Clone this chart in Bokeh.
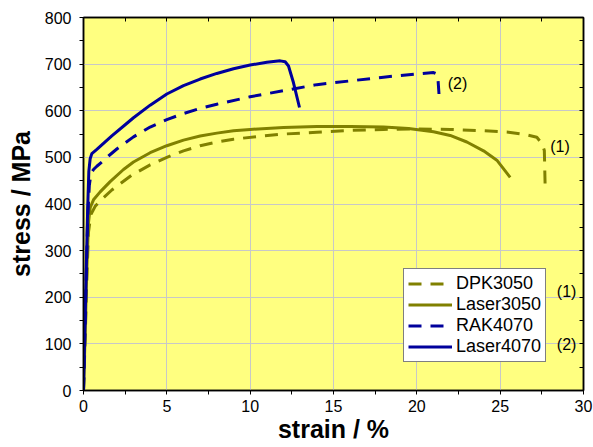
from bokeh.plotting import figure
from bokeh.models import (ColumnDataSource, Legend, LegendItem, LinearAxis, Range1d,
                          SingleIntervalTicker, CustomJSTickFormatter)
from bokeh.core.properties import value
from bokeh.embed import file_html
from bokeh.resources import INLINE

# Tensile test curves: engineering strain (%) vs stress (MPa)
dpk3050_strain = [0, 0.1, 0.2, 0.3, 0.45, 0.7, 1.0, 1.7, 2.9, 4.0, 5.0, 6.0, 7.0, 8.0, 9.0,
                  10.5, 12.0, 14.0, 16.0, 18.0, 20.0, 22.0, 24.0, 25.5, 26.5, 27.2, 27.5,
                  27.65, 27.7]
dpk3050_stress = [0, 110, 240, 340, 378, 395, 407, 430, 462, 484, 500, 514, 525, 533, 539,
                  545, 550, 554, 558, 560, 561, 560, 557, 554, 549, 543, 530, 515, 436]

laser3050_strain = [0, 0.1, 0.2, 0.3, 0.4, 0.6, 1.0, 1.6, 2.4, 3.0, 4.0, 5.0, 6.0, 7.0, 8.0,
                    9.0, 10.0, 12.0, 14.0, 16.0, 18.0, 19.5, 21.0, 22.0, 23.0, 24.0, 24.8,
                    25.6]
laser3050_stress = [0, 120, 260, 360, 392, 409, 426, 448, 474, 490, 510, 525, 537, 546, 552,
                    557, 560, 564, 566, 566, 565, 562, 555, 547, 533, 514, 494, 457]

rak4070_strain = [0, 0.12, 0.25, 0.35, 0.45, 0.6, 0.8, 1.1, 1.5, 2.0, 2.5, 3.0, 4.0, 5.0,
                  6.0, 7.0, 8.0, 10.0, 12.0, 14.0, 16.0, 18.0, 20.0, 21.0, 21.25, 21.35]
rak4070_stress = [0, 180, 370, 440, 465, 474, 481, 490, 503, 518, 531, 544, 565, 581, 594,
                  605, 614, 630, 643, 656, 664, 672, 679, 682, 678, 625]

laser4070_strain = [0, 0.12, 0.25, 0.32, 0.4, 0.5, 0.8, 1.2, 1.7, 2.5, 3.0, 4.0, 5.0, 6.0,
                    7.0, 8.0, 9.0, 10.0, 11.0, 11.8, 12.1, 12.3, 12.6, 12.96]
laser4070_stress = [0, 190, 390, 470, 497, 508, 517, 530, 546, 570, 585, 612, 636, 654, 668,
                    680, 690, 698, 704, 707, 705, 696, 660, 607]

series_names = ["DPK3050", "Laser3050", "RAK4070", "Laser4070"]

# Group markers placed next to the curves and the legend
note_text = ["(1)", "(2)", "(1)", "(2)"]
note_strain = [28.0, 21.85, 28.4, 28.4]
note_stress = [524, 658, 213, 99]

OLIVE = "#808000"
BLUE = "#00009C"
FONT = "Liberation Sans"

p = figure(width=593, height=447, output_backend="svg", toolbar_location=None,
           x_range=Range1d(0, 30), y_range=Range1d(0, 800),
           min_border_left=83, min_border_right=10, min_border_top=17,
           min_border_bottom=57)
p.background_fill_color = "#FFFF80"
p.border_fill_color = "white"
p.outline_line_color = "black"
p.outline_line_width = 1.5

x_ticker = SingleIntervalTicker(interval=5, num_minor_ticks=2)
y_ticker = SingleIntervalTicker(interval=100, num_minor_ticks=2)

for ax, tk in ((p.xaxis[0], x_ticker), (p.yaxis[0], y_ticker)):
    ax.ticker = tk
    ax.axis_line_color = "black"
    ax.axis_line_width = 1.5
    ax.major_tick_in = 0
    ax.major_tick_out = 0
    ax.minor_tick_in = 0
    ax.minor_tick_out = 4
    ax.minor_tick_line_color = "black"
    ax.major_label_text_font = FONT
    ax.major_label_text_font_size = "16px"
    ax.major_label_text_color = "black"
    ax.axis_label_text_font = FONT
    ax.axis_label_text_font_size = "25px"
    ax.axis_label_text_font_style = "bold"
    ax.axis_label_text_color = "black"

p.xaxis.axis_label = "strain / %"
p.yaxis.axis_label = "stress / MPa"
p.xaxis.major_label_standoff = 5
p.xaxis.axis_label_standoff = 0
p.yaxis.major_label_standoff = 8
p.yaxis.axis_label_standoff = 7

# Mirror axes: inward minor ticks, no labels
blank = CustomJSTickFormatter(code="return ''")
for tk, side in ((SingleIntervalTicker(interval=5, num_minor_ticks=2), "above"),
                 (SingleIntervalTicker(interval=100, num_minor_ticks=2), "right")):
    ax = LinearAxis(ticker=tk, formatter=blank, major_tick_in=0, major_tick_out=0,
                    minor_tick_in=4, minor_tick_out=0, axis_line_color="black",
                    axis_line_width=1.5, major_label_text_font_size="0px",
                    major_label_standoff=0)
    p.add_layout(ax, side)

p.xgrid.ticker = x_ticker
p.ygrid.ticker = y_ticker
p.grid.grid_line_color = "#C8C8C8"
p.grid.grid_line_width = 1

curves = [
    (dpk3050_strain, dpk3050_stress, OLIVE, "13 9"),
    (laser3050_strain, laser3050_stress, OLIVE, "solid"),
    (rak4070_strain, rak4070_stress, BLUE, "13 9"),
    (laser4070_strain, laser4070_stress, BLUE, "solid"),
]

items = []
for name, (xs, ys, color, dash) in zip(series_names, curves):
    src = ColumnDataSource(dict(x=xs, y=ys))
    r = p.line("x", "y", source=src, line_color=color, line_width=3,
               line_dash=dash, line_join="round")
    items.append(LegendItem(label=name, renderers=[r]))

notes = ColumnDataSource(dict(x=note_strain, y=note_stress, t=note_text))
p.text("x", "y", text="t", source=notes, text_font=value(FONT),
       text_font_size="16px", text_color="black", text_align="left",
       text_baseline="middle")

legend = Legend(items=items, location=(320, 28), orientation="vertical",
                background_fill_color="white", background_fill_alpha=1.0,
                border_line_color="black", border_line_width=1,
                label_text_font=FONT, label_text_font_size="18px",
                label_text_color="black", glyph_width=44, glyph_height=21,
                label_height=21, label_standoff=4, spacing=0, padding=4, margin=0)
p.add_layout(legend, "center")

open("out.html", "w").write(file_html(p, INLINE))
